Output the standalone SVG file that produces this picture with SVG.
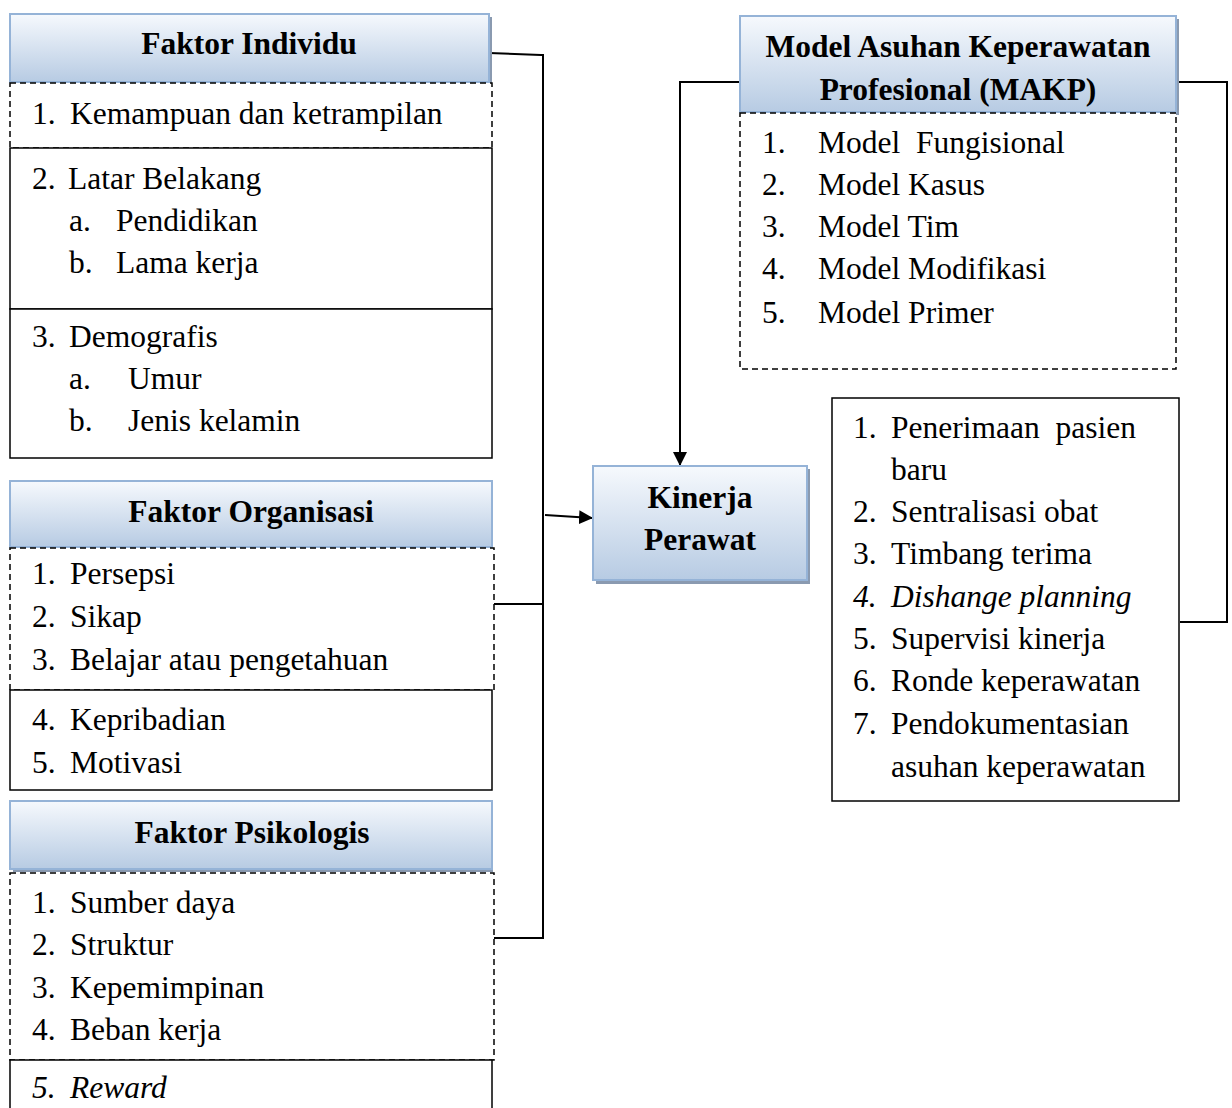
<svg xmlns="http://www.w3.org/2000/svg" width="1232" height="1108" viewBox="0 0 1232 1108">
<defs>
<linearGradient id="hg" x1="0" y1="0" x2="0" y2="1">
<stop offset="0" stop-color="#f6f9fd"/>
<stop offset="1" stop-color="#b7cbe3"/>
</linearGradient>
<marker id="ah" markerWidth="14" markerHeight="14" refX="13" refY="7" orient="auto" markerUnits="userSpaceOnUse" viewBox="0 0 14 14">
<path d="M0,0 L14,7 L0,14 z" fill="#000"/>
</marker>
</defs>
<style>
.hd{fill:url(#hg);stroke:#95b3d7;stroke-width:2}
.sh{fill:#8a9ab0}
.ds{fill:#fff;stroke:#000;stroke-width:1.5;stroke-dasharray:6,4}
.so{fill:#fff;stroke:#000;stroke-width:1.5}
.t{font-family:"Liberation Serif","Times New Roman",serif;font-size:31.5px;fill:#000}
.b{font-weight:bold;text-anchor:middle}
.i{font-style:italic}
.c{fill:none;stroke:#000;stroke-width:2}
</style>
<rect width="1232" height="1108" fill="#fff"/>
<g id="connectors">
<polyline class="c" points="489,53 541,55 543,55 543,938 493,938"/>
<line class="c" x1="493" y1="604" x2="543" y2="604"/>
<line class="c" x1="545" y1="515" x2="592" y2="518" marker-end="url(#ah)"/>
<polyline class="c" points="740,82 680,82 680,465" marker-end="url(#ah)"/>
<polyline class="c" points="1178,82 1227,82 1227,622 1180,622"/>
</g>
<g id="faktor-individu">
<rect class="sh" x="13" y="17" width="479" height="68"/>
<rect class="hd" x="10" y="14" width="479" height="68"/>
<text class="t b" x="249" y="54">Faktor Individu</text>
<rect class="ds" x="10" y="83" width="482" height="65"/>
<text class="t" x="32" y="124">1.</text><text class="t" x="70" y="124">Kemampuan dan ketrampilan</text>
<rect class="so" x="10" y="148" width="482" height="161"/>
<text class="t" x="32" y="189">2.</text><text class="t" x="68" y="189">Latar Belakang</text>
<text class="t" x="69" y="231">a.</text><text class="t" x="116" y="231">Pendidikan</text>
<text class="t" x="69" y="273">b.</text><text class="t" x="116" y="273">Lama kerja</text>
<rect class="so" x="10" y="309" width="482" height="149"/>
<text class="t" x="32" y="347">3.</text><text class="t" x="69" y="347">Demografis</text>
<text class="t" x="69" y="389">a.</text><text class="t" x="128" y="389">Umur</text>
<text class="t" x="69" y="431">b.</text><text class="t" x="128" y="431">Jenis kelamin</text>
</g>
<g id="faktor-organisasi">
<rect class="sh" x="13" y="484" width="480" height="66"/>
<rect class="hd" x="10" y="481" width="482" height="66"/>
<text class="t b" x="251" y="522">Faktor Organisasi</text>
<rect class="ds" x="10" y="548" width="484" height="142"/>
<text class="t" x="32" y="584">1.</text><text class="t" x="70" y="584">Persepsi</text>
<text class="t" x="32" y="627">2.</text><text class="t" x="70" y="627">Sikap</text>
<text class="t" x="32" y="670">3.</text><text class="t" x="70" y="670">Belajar atau pengetahuan</text>
<rect class="so" x="10" y="690" width="482" height="100"/>
<text class="t" x="32" y="730">4.</text><text class="t" x="70" y="730">Kepribadian</text>
<text class="t" x="32" y="773">5.</text><text class="t" x="70" y="773">Motivasi</text>
</g>
<g id="faktor-psikologis">
<rect class="sh" x="13" y="804" width="480" height="68"/>
<rect class="hd" x="10" y="801" width="482" height="68"/>
<text class="t b" x="252" y="843">Faktor Psikologis</text>
<rect class="ds" x="10" y="873" width="484" height="187"/>
<text class="t" x="32" y="913">1.</text><text class="t" x="70" y="913">Sumber daya</text>
<text class="t" x="32" y="955">2.</text><text class="t" x="70" y="955">Struktur</text>
<text class="t" x="32" y="998">3.</text><text class="t" x="70" y="998">Kepemimpinan</text>
<text class="t" x="32" y="1040">4.</text><text class="t" x="70" y="1040">Beban kerja</text>
<rect class="so" x="10" y="1060" width="482" height="60"/>
<text class="t i" x="32" y="1098">5.</text><text class="t i" x="70" y="1098">Reward</text>
</g>
<g id="kinerja-perawat">
<rect class="sh" x="596" y="469" width="214" height="115"/>
<rect class="hd" x="593" y="466" width="214" height="114"/>
<text class="t b" x="700" y="508">Kinerja</text>
<text class="t b" x="700" y="550">Perawat</text>
</g>
<g id="makp">
<rect class="sh" x="743" y="19" width="436" height="96"/>
<rect class="hd" x="740" y="16" width="436" height="96"/>
<text class="t b" x="958" y="57">Model Asuhan Keperawatan</text>
<text class="t b" x="958" y="100">Profesional (MAKP)</text>
<rect class="ds" x="740" y="113" width="436" height="256"/>
<text class="t" x="762" y="153">1.</text><text class="t" x="818" y="153" xml:space="preserve">Model  Fungisional</text>
<text class="t" x="762" y="195">2.</text><text class="t" x="818" y="195">Model Kasus</text>
<text class="t" x="762" y="237">3.</text><text class="t" x="818" y="237">Model Tim</text>
<text class="t" x="762" y="279">4.</text><text class="t" x="818" y="279">Model Modifikasi</text>
<text class="t" x="762" y="323">5.</text><text class="t" x="818" y="323">Model Primer</text>
</g>
<g id="makp-kegiatan">
<rect class="so" x="832" y="398" width="347" height="403"/>
<text class="t" x="853" y="438">1.</text><text class="t" x="891" y="438" xml:space="preserve">Penerimaan  pasien</text>
<text class="t" x="891" y="480">baru</text>
<text class="t" x="853" y="522">2.</text><text class="t" x="891" y="522">Sentralisasi obat</text>
<text class="t" x="853" y="564">3.</text><text class="t" x="891" y="564">Timbang terima</text>
<text class="t i" x="853" y="607">4.</text><text class="t i" x="891" y="607">Dishange planning</text>
<text class="t" x="853" y="649">5.</text><text class="t" x="891" y="649">Supervisi kinerja</text>
<text class="t" x="853" y="691">6.</text><text class="t" x="891" y="691">Ronde keperawatan</text>
<text class="t" x="853" y="734">7.</text><text class="t" x="891" y="734">Pendokumentasian</text>
<text class="t" x="891" y="777">asuhan keperawatan</text>
</g>
</svg>
